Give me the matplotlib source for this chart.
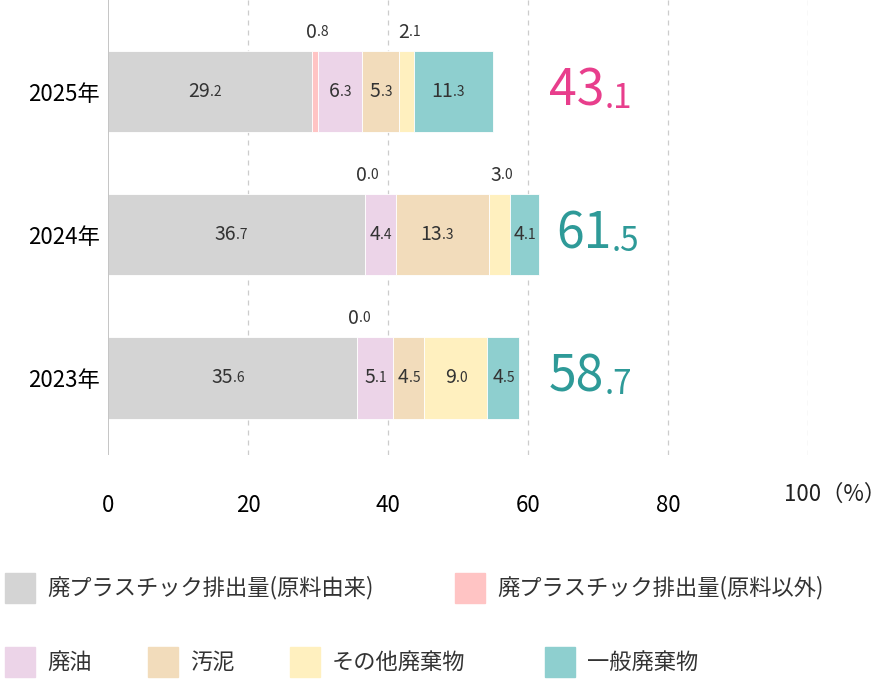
import matplotlib.pyplot as plt
from matplotlib.patches import Rectangle

plt.rcParams['font.family'] = ['Noto Sans CJK JP', 'DejaVu Sans']

years = ['2023年', '2024年', '2025年']
series = ['廃プラスチック排出量(原料由来)', '廃プラスチック排出量(原料以外)',
          '廃油', '汚泥', 'その他廃棄物', '一般廃棄物']
values = [
    [35.6, 36.7, 29.2],
    [0.0, 0.0, 0.8],
    [5.1, 4.4, 6.3],
    [4.5, 13.3, 5.3],
    [9.0, 3.0, 2.1],
    [4.5, 4.1, 11.3],
]
totals = ['58.7', '61.5', '43.1']
total_colors = ['#2e9a98', '#2e9a98', '#e83e8c']
colors = ['#d4d4d4', '#ffc4c4', '#ecd4e8', '#f2dcbb', '#fff0bf', '#8ecfcf']

fig = plt.figure(figsize=(8.86, 6.82), dpi=100)
ax = fig.add_axes([108 / 886, 227 / 682, 700 / 886, 455 / 682])
ax.set_xlim(0, 100)
ax.set_ylim(-0.54, 2.64)
for s in ax.spines.values():
    s.set_visible(False)
ax.axvline(0, color='#bbbbbb', lw=1.2)
for g in range(20, 101, 20):
    ax.axvline(g, color='#cccccc', lw=0.9, ls=(0, (4, 4)), zorder=0)


def split_label(x, y, txt, big, small, color='#333333'):
    a, b = txt.split('.')
    ax.text(x, y, a, ha='right', va='center', fontsize=big, color=color)
    ax.text(x, y, '.' + b, ha='left', va='center', fontsize=small, color=color)


h = 0.57
for i in range(3):
    left = 0
    for j in range(len(series)):
        v = values[j][i]
        ax.barh(i, v, left=left, height=h, color=colors[j], edgecolor='white', lw=0.6)
        c = left + v / 2
        txt = '%.1f' % v
        if v >= 4:
            split_label(c, i, txt, 14, 10)
        else:
            split_label(c + 0.3, i + h / 2 + 0.13, txt, 14, 10)
        left += v
    tx = max(left + 2.5, 63)
    a, b = totals[i].split('.')
    t = ax.text(tx, i, a, ha='left', va='center', fontsize=36, color=total_colors[i])
    ax.annotate('.' + b, xy=(1, 0.5), xycoords=t, xytext=(0, -5), textcoords='offset points',
                ha='left', va='center', fontsize=24, color=total_colors[i])

ax.set_yticks(range(3))
ax.set_yticklabels(years, fontsize=16)
ax.set_xticks(range(0, 101, 20))
ax.set_xticklabels(['0', '20', '40', '60', '80', ''], fontsize=16)
ax.tick_params(axis='x', length=0, pad=28)
ax.tick_params(axis='y', length=0, pad=6)
ax.text(96.6, -0.54, '100（%）', transform=ax.transData, ha='left', va='top',
        fontsize=16, color='#222222')
ax.texts[-1].set_y(-0.54)
ax.texts[-1].set_transform(ax.get_xaxis_transform())
ax.texts[-1].set_position((96.6, -0.062))

# legend drawn by hand
pos = [(5, 588), (455, 588), (5, 662), (148, 662), (290, 662), (545, 662)]
for (px, py), name, col in zip(pos, series, colors):
    fig.patches.append(Rectangle((px / 886, (682 - py - 15) / 682), 30 / 886, 30 / 682,
                                 color=col, transform=fig.transFigure))
    fig.text((px + 42) / 886, (682 - py) / 682, name, ha='left', va='center', fontsize=16,
             color='#333333')

fig.savefig('out.png', dpi=100)
